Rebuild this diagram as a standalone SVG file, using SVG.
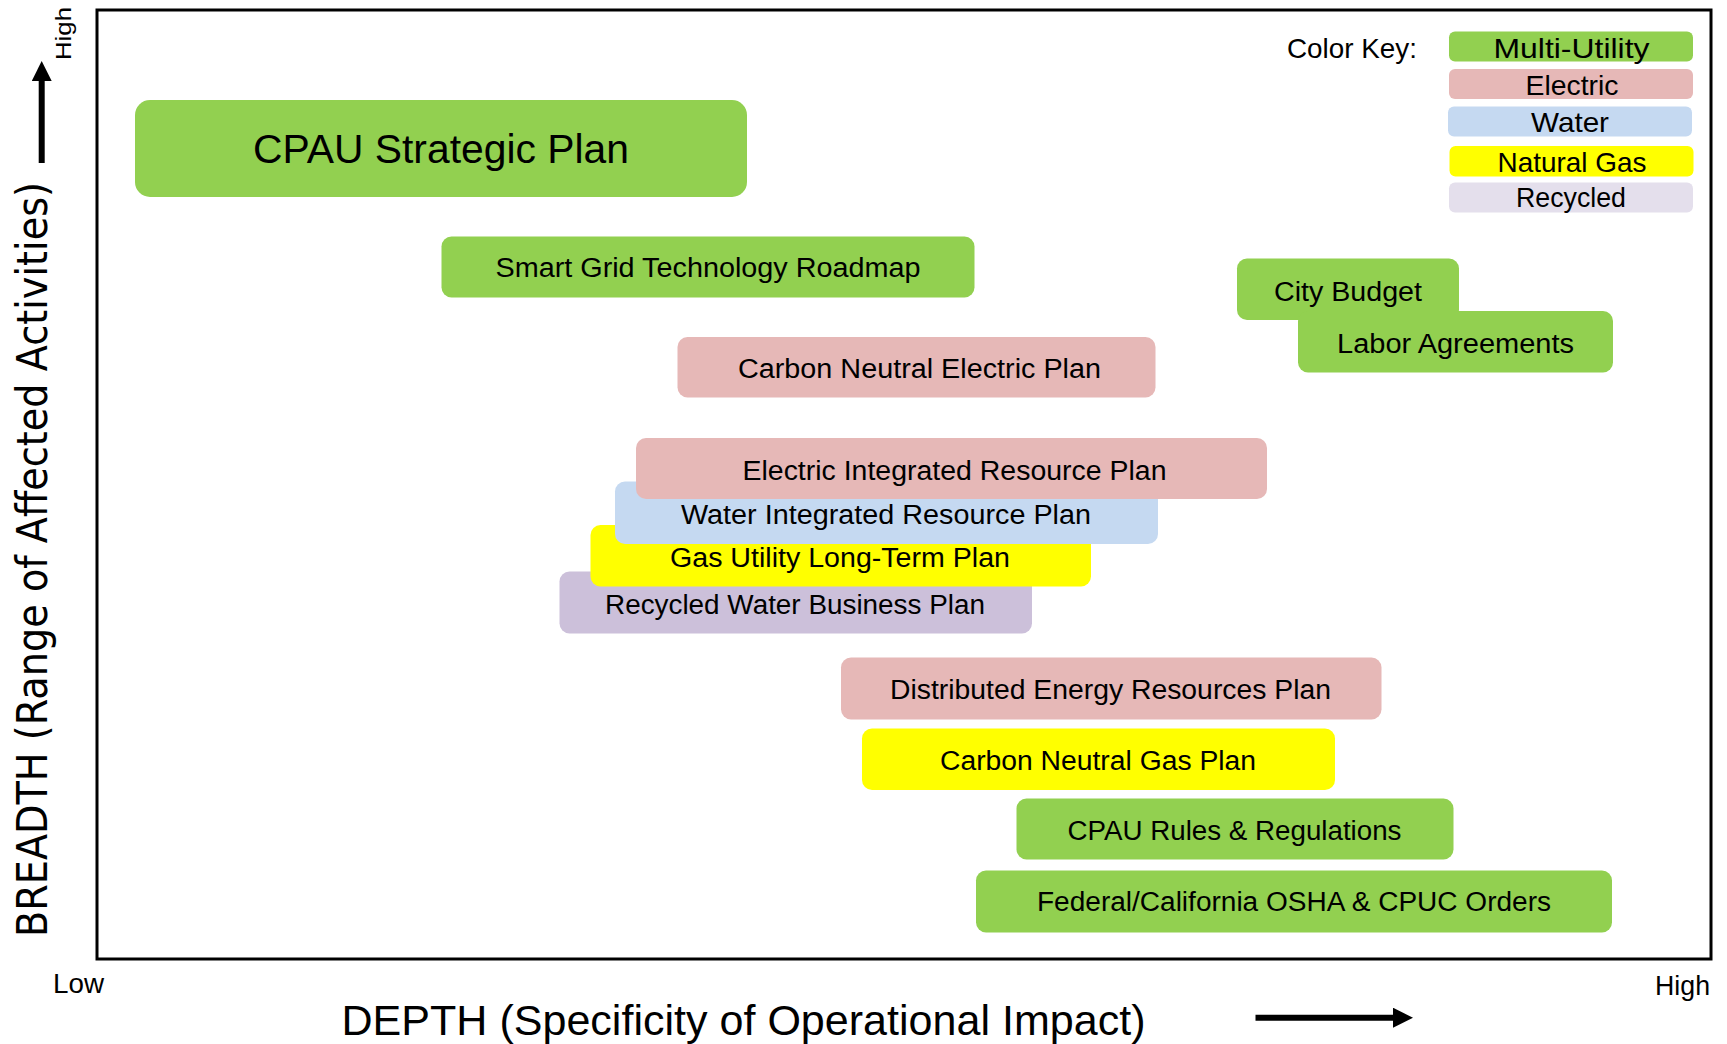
<svg xmlns="http://www.w3.org/2000/svg" width="1727" height="1044" viewBox="0 0 1727 1044">
<style>
  .lbl { font-family: "Liberation Sans", Arial, sans-serif; fill: #000; text-anchor: middle; }
  .node { font-size: 27px; }
  .key { font-size: 28px; }
  .multi { fill: #92D050; }
  .elec { fill: #E6B8B7; }
  .water { fill: #C5D9F1; }
  .gas { fill: #FFFF00; }
  .recyc { fill: #CCC0DA; }
  .recyc-key { fill: #E4DFEC; }
  .axis { font-family: "Liberation Sans", Arial, sans-serif; fill: #000; }
  .arrow { stroke: #000; stroke-width: 6; fill: none; marker-end: url(#head); }
</style>
<defs>
  <marker id="head" markerUnits="userSpaceOnUse" viewBox="0 0 20 20" refX="0" refY="10" markerWidth="20" markerHeight="20" orient="auto">
    <path d="M0,0 L20,10 L0,20 Z" fill="#000"/>
  </marker>
</defs>
<rect width="1727" height="1044" fill="#fff"/>

<!-- chart frame -->
<rect id="frame" x="97" y="10" width="1614" height="949" fill="none" stroke="#000" stroke-width="3"/>

<!-- legend -->
<g id="legend">
  <text class="lbl key" x="1352" y="58" textLength="130" lengthAdjust="spacingAndGlyphs">Color Key:</text>
  <g id="key-multi"><rect class="multi" x="1449" y="31.5" width="244" height="30" rx="6"/><text class="lbl key" x="1571.5" y="58" textLength="156" lengthAdjust="spacingAndGlyphs">Multi-Utility</text></g>
  <g id="key-electric"><rect class="elec" x="1449" y="69" width="244" height="30" rx="6"/><text class="lbl key" x="1572" y="95" textLength="93" lengthAdjust="spacingAndGlyphs">Electric</text></g>
  <g id="key-water"><rect class="water" x="1448" y="106.5" width="244" height="30" rx="6"/><text class="lbl key" x="1570" y="131.5" textLength="78" lengthAdjust="spacingAndGlyphs">Water</text></g>
  <g id="key-gas"><rect class="gas" x="1449.5" y="146" width="244" height="30.5" rx="6"/><text class="lbl key" x="1572" y="171.5" textLength="149" lengthAdjust="spacingAndGlyphs">Natural Gas</text></g>
  <g id="key-recycled"><rect class="recyc-key" x="1449" y="182.5" width="244" height="30" rx="6"/><text class="lbl key" x="1571" y="207" textLength="110" lengthAdjust="spacingAndGlyphs">Recycled</text></g>
</g>

<!-- nodes -->
<g id="cpau-strategic-plan">
  <rect class="multi" x="135" y="100" width="612" height="97" rx="15"/>
  <text class="lbl" x="441" y="163" font-size="40" textLength="376" lengthAdjust="spacingAndGlyphs">CPAU Strategic Plan</text>
</g>
<g id="smart-grid-roadmap">
  <rect class="multi" x="441.5" y="236.5" width="533" height="61" rx="10"/>
  <text class="lbl node" x="708" y="277" textLength="425" lengthAdjust="spacingAndGlyphs">Smart Grid Technology Roadmap</text>
</g>
<g id="city-budget">
  <rect class="multi" x="1237" y="258.5" width="222" height="61.5" rx="10"/>
  <text class="lbl node" x="1348" y="301" textLength="148" lengthAdjust="spacingAndGlyphs">City Budget</text>
</g>
<g id="labor-agreements">
  <rect class="multi" x="1298" y="311" width="315" height="61.5" rx="10"/>
  <text class="lbl node" x="1455.5" y="352.5" textLength="237" lengthAdjust="spacingAndGlyphs">Labor Agreements</text>
</g>
<g id="carbon-neutral-electric-plan">
  <rect class="elec" x="677.5" y="337" width="478" height="60.5" rx="10"/>
  <text class="lbl node" x="919.5" y="377.5" textLength="363" lengthAdjust="spacingAndGlyphs">Carbon Neutral Electric Plan</text>
</g>
<g id="recycled-water-business-plan">
  <rect class="recyc" x="559.5" y="571.5" width="472.5" height="62" rx="10"/>
  <text class="lbl node" x="795" y="613.5" textLength="380" lengthAdjust="spacingAndGlyphs">Recycled Water Business Plan</text>
</g>
<g id="gas-utility-long-term-plan">
  <rect class="gas" x="590.5" y="525" width="500.5" height="61.5" rx="10"/>
  <text class="lbl node" x="840" y="566.5" textLength="340" lengthAdjust="spacingAndGlyphs">Gas Utility Long-Term Plan</text>
</g>
<g id="water-integrated-resource-plan">
  <rect class="water" x="615" y="481.5" width="543" height="62.5" rx="10"/>
  <text class="lbl node" x="886" y="523.5" textLength="410" lengthAdjust="spacingAndGlyphs">Water Integrated Resource Plan</text>
</g>
<g id="electric-integrated-resource-plan">
  <rect class="elec" x="636" y="438" width="631" height="61" rx="10"/>
  <text class="lbl node" x="954.5" y="480" textLength="424" lengthAdjust="spacingAndGlyphs">Electric Integrated Resource Plan</text>
</g>
<g id="distributed-energy-resources-plan">
  <rect class="elec" x="841" y="657.5" width="540.5" height="62" rx="10"/>
  <text class="lbl node" x="1110.5" y="698.5" textLength="441" lengthAdjust="spacingAndGlyphs">Distributed Energy Resources Plan</text>
</g>
<g id="carbon-neutral-gas-plan">
  <rect class="gas" x="862" y="728.5" width="473" height="61.5" rx="10"/>
  <text class="lbl node" x="1098" y="769.5" textLength="316" lengthAdjust="spacingAndGlyphs">Carbon Neutral Gas Plan</text>
</g>
<g id="cpau-rules-regulations">
  <rect class="multi" x="1016.5" y="798.5" width="437" height="61" rx="10"/>
  <text class="lbl node" x="1234.5" y="839.5" textLength="334" lengthAdjust="spacingAndGlyphs">CPAU Rules &amp; Regulations</text>
</g>
<g id="federal-california-osha-cpuc-orders">
  <rect class="multi" x="976" y="870.5" width="636" height="62" rx="10"/>
  <text class="lbl node" x="1294" y="911" textLength="514" lengthAdjust="spacingAndGlyphs">Federal/California OSHA &amp; CPUC Orders</text>
</g>

<!-- axis labels -->
<g id="axis-labels">
  <text class="axis" x="53" y="993" font-size="27" textLength="51" lengthAdjust="spacingAndGlyphs">Low</text>
  <text class="axis" x="1655" y="995" font-size="27" textLength="55" lengthAdjust="spacingAndGlyphs">High</text>
  <text class="axis" x="341.5" y="1034.5" font-size="43" textLength="804" lengthAdjust="spacingAndGlyphs">DEPTH (Specificity of Operational Impact)</text>
  <text class="axis" transform="translate(71,33.5) rotate(-90)" text-anchor="middle" font-size="22" textLength="53" lengthAdjust="spacingAndGlyphs">High</text>
  <text transform="translate(46.5,559.5) rotate(-90) scale(1,1.1)" text-anchor="middle" font-family="'DejaVu Sans', Verdana, sans-serif" font-size="38" fill="#000" textLength="755" lengthAdjust="spacingAndGlyphs">BREADTH (Range of Affected Activities)</text>
</g>

<!-- axis direction arrows -->
<g id="connectors">
  <line class="arrow" x1="1255.5" y1="1017.7" x2="1393" y2="1017.7"/>
  <line class="arrow" x1="41.7" y1="163" x2="41.7" y2="81"/>
</g>
</svg>
